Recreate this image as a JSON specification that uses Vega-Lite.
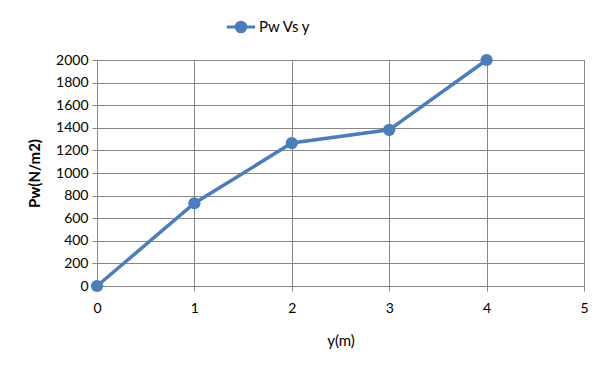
{
  "$schema": "https://vega.github.io/schema/vega-lite/v6.json",
  "width": 487,
  "height": 226,
  "autosize": {"type": "none"},
  "padding": {"left": 97, "top": 60, "right": 24, "bottom": 79},
  "background": "white",
  "config": {
    "font": "Lato",
    "view": {"stroke": "#868686", "strokeWidth": 1},
    "axis": {
      "labelFont": "Lato",
      "labelFontSize": 14,
      "labelColor": "#000000",
      "gridColor": "#868686",
      "gridOpacity": 1,
      "domainColor": "#868686",
      "tickColor": "#868686",
      "tickSize": 5,
      "titleFont": "Lato",
      "titleColor": "#000000"
    }
  },
  "data": {
    "values": [
      {"y": 0, "pw": 0, "s": "Pw Vs y"},
      {"y": 1, "pw": 732, "s": "Pw Vs y"},
      {"y": 2, "pw": 1265, "s": "Pw Vs y"},
      {"y": 3, "pw": 1382, "s": "Pw Vs y"},
      {"y": 4, "pw": 2000, "s": "Pw Vs y"}
    ]
  },
  "encoding": {
    "x": {
      "field": "y", "type": "quantitative",
      "scale": {"domain": [0, 5], "nice": false},
      "axis": {"values": [0, 1, 2, 3, 4, 5], "format": "d", "labelFlush": false, "title": "y(m)", "titleFontSize": 15, "titleFontWeight": "normal", "titlePadding": 18, "labelPadding": 10}
    },
    "y": {
      "field": "pw", "type": "quantitative",
      "scale": {"domain": [0, 2000], "nice": false},
      "axis": {"values": [0, 200, 400, 600, 800, 1000, 1200, 1400, 1600, 1800, 2000], "format": "d", "labelFlush": false, "title": "Pw(N/m2)", "titleFontSize": 15, "titleFontWeight": "bold", "titlePadding": 13, "labelPadding": 4}
    },
    "color": {
      "field": "s", "type": "nominal",
      "scale": {"range": ["#4a7ebb"]},
      "legend": {
        "title": null,
        "orient": "none",
        "legendX": 128,
        "legendY": -49,
        "labelFontSize": 15,
        "labelFont": "Lato",
        "labelColor": "#000000",
        "symbolType": "M-1,0L1,0M-0.34,0A0.34,0.34 0 1,1 0.34,0A0.34,0.34 0 1,1 -0.34,0Z",
        "symbolSize": 800,
        "symbolStrokeWidth": 3,
        "symbolFillColor": "#4a7ebb",
        "symbolStrokeColor": "#4a7ebb",
        "symbolOffset": 0,
        "labelOffset": 2
      }
    }
  },
  "layer": [
    {"mark": {"type": "line", "strokeWidth": 3.5}},
    {"mark": {"type": "point", "filled": true, "size": 150, "opacity": 1}}
  ]
}
